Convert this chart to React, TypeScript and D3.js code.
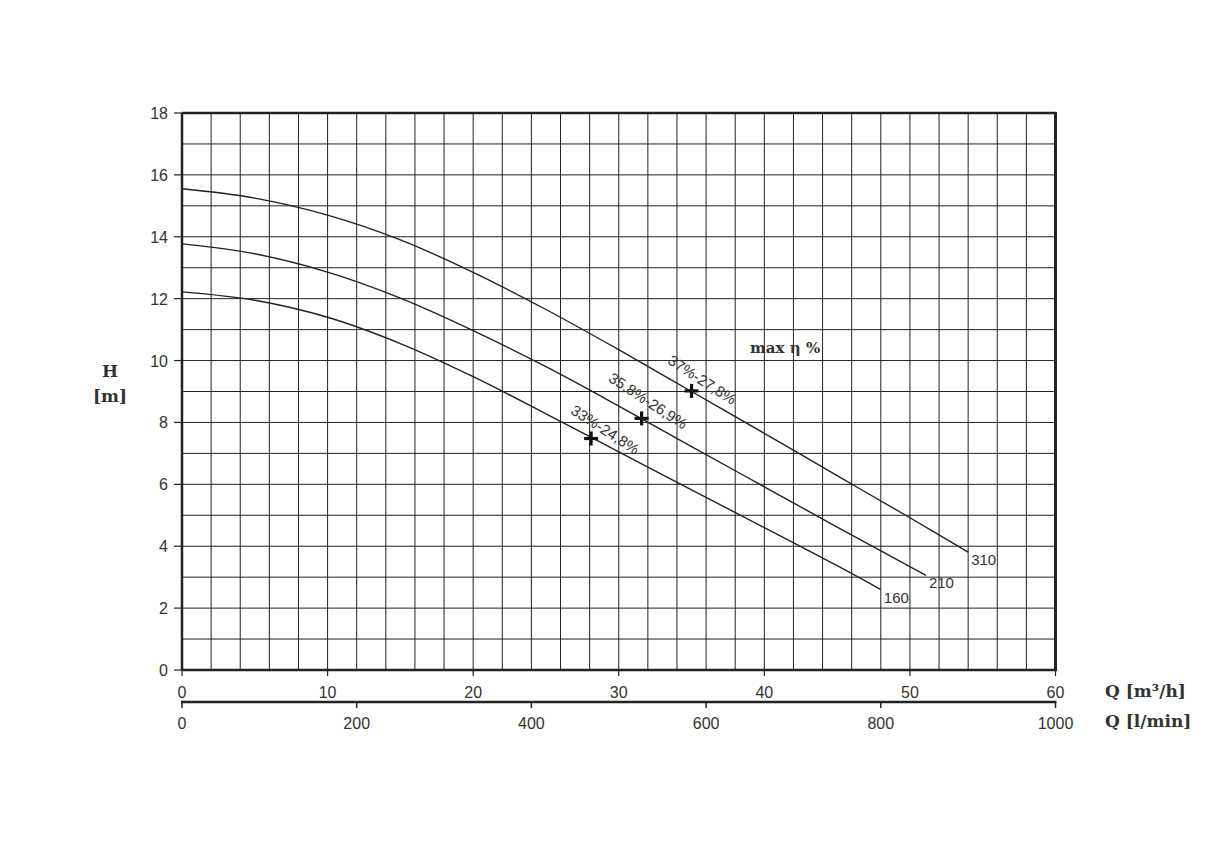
import React from "react";
import * as d3 from "d3";

// ---- data ----
const qTicks = [0, 10, 20, 30, 40, 50, 60];
const lminTicks = [0, 200, 400, 600, 800, 1000];
const hTicks = [0, 2, 4, 6, 8, 10, 12, 14, 16, 18];

const q310 = [0, 5, 10, 15, 20, 25, 30, 35, 40, 45, 50, 54.0];
const h310 = [15.55, 15.25, 14.7, 13.9, 12.85, 11.65, 10.35, 9.0, 7.65, 6.28, 4.92, 3.81];

const q210 = [0, 5, 10, 15, 20, 25, 30, 35, 40, 45, 51.1];
const h210 = [13.77, 13.45, 12.86, 12.02, 10.97, 9.8, 8.53, 7.22, 5.92, 4.62, 3.06];

const q160 = [0, 5, 10, 15, 20, 25, 30, 35, 40, 45, 48.0];
const h160 = [12.22, 11.95, 11.4, 10.55, 9.48, 8.28, 7.05, 5.82, 4.6, 3.37, 2.6];

const seriesNames = ["310", "210", "160"];
const effLabels = ["37%-27,8%", "35,8%-26,9%", "33%-24,8%"];
const markerQ = [35.0, 31.57, 28.1];
const markerH = [9.02, 8.13, 7.48];
const labelQ = [35.72, 32.01, 29.06];
const labelH = [9.37, 8.69, 7.76];

const W = 1222;
const H = 843;
const left = 182, right = 1055.5, top = 113, bottom = 670;

export default function App() {
  const x = d3.scaleLinear().domain([0, 60]).range([left, right]);
  const xl = d3.scaleLinear().domain([0, 1000]).range([left, right]);
  const y = d3.scaleLinear().domain([0, 18]).range([bottom, top]);

  const line = d3
    .line<[number, number]>()
    .x((d) => x(d[0]))
    .y((d) => y(d[1]))
    .curve(d3.curveCatmullRom.alpha(0.5));

  const curves = [
    q310.map((q, i) => [q, h310[i]] as [number, number]),
    q210.map((q, i) => [q, h210[i]] as [number, number]),
    q160.map((q, i) => [q, h160[i]] as [number, number]),
  ];

  const vGrid = d3.range(2, 60, 2);
  const hGrid = d3.range(1, 18, 1);
  const ink = "#222";
  const txt = "#333";
  const sans = "'Liberation Sans', Arial, Helvetica, sans-serif";
  const serif = "'DejaVu Serif', 'Liberation Serif', serif";
  const xAxis2Y = 702;

  return (
    <svg
      width={W}
      height={H}
      style={{ position: "absolute", left: 0, top: 0, background: "#fff" }}
    >
      <rect x={0} y={0} width={W} height={H} fill="#fff" />
      {/* grid */}
      {vGrid.map((v) => (
        <line key={"v" + v} x1={x(v)} x2={x(v)} y1={top} y2={bottom} stroke={ink} strokeWidth={1} />
      ))}
      {hGrid.map((v) => (
        <line key={"h" + v} x1={left} x2={right} y1={y(v)} y2={y(v)} stroke={ink} strokeWidth={1} />
      ))}
      {/* frame */}
      <line x1={left} x2={right} y1={top} y2={top} stroke={ink} strokeWidth={2.5} />
      <line x1={left} x2={left} y1={top} y2={bottom} stroke={ink} strokeWidth={2.5} />
      <line x1={right} x2={right} y1={top - 1} y2={bottom} stroke={ink} strokeWidth={3} />
      <line x1={left - 1} x2={right + 1.5} y1={bottom} y2={bottom} stroke={ink} strokeWidth={2.5} />

      {/* y ticks */}
      {hTicks.map((v) => (
        <g key={"yt" + v}>
          <line x1={left - 8} x2={left} y1={y(v)} y2={y(v)} stroke={ink} strokeWidth={1.2} />
          <text x={left - 14} y={y(v) + 6} textAnchor="end" fontFamily={sans} fontSize={16} fill={txt}>
            {v}
          </text>
        </g>
      ))}
      {/* x ticks m3/h */}
      {qTicks.map((v) => (
        <g key={"xt" + v}>
          <line x1={x(v)} x2={x(v)} y1={bottom} y2={bottom + 6} stroke={ink} strokeWidth={1.2} />
          <text x={x(v)} y={698} textAnchor="middle" fontFamily={sans} fontSize={16} fill={txt}>
            {v}
          </text>
        </g>
      ))}
      {/* second axis l/min */}
      <line x1={left - 1} x2={right + 1} y1={xAxis2Y} y2={xAxis2Y} stroke={ink} strokeWidth={2.5} />
      {lminTicks.map((v) => (
        <g key={"lt" + v}>
          <line x1={xl(v)} x2={xl(v)} y1={xAxis2Y} y2={xAxis2Y + 6} stroke={ink} strokeWidth={1.5} />
          <text x={xl(v)} y={729} textAnchor="middle" fontFamily={sans} fontSize={16} fill={txt}>
            {v}
          </text>
        </g>
      ))}

      {/* curves */}
      {curves.map((c, i) => (
        <path key={"c" + i} d={line(c) || ""} fill="none" stroke={ink} strokeWidth={1.4} />
      ))}
      {/* end labels */}
      {curves.map((c, i) => {
        const last = c[c.length - 1];
        return (
          <text
            key={"n" + i}
            x={x(last[0]) + 3}
            y={y(last[1]) + 13}
            fontFamily={sans}
            fontSize={15}
            fill={txt}
          >
            {seriesNames[i]}
          </text>
        );
      })}
      {/* markers */}
      {markerQ.map((q, i) => (
        <g key={"m" + i} transform={`translate(${x(q)},${y(markerH[i])})`}>
          <line x1={-7} x2={7} y1={0} y2={0} stroke="#111" strokeWidth={3.2} />
          <line x1={0} x2={0} y1={-7} y2={7} stroke="#111" strokeWidth={3.2} />
        </g>
      ))}
      {/* efficiency labels */}
      {labelQ.map((q, i) => (
        <text
          key={"e" + i}
          transform={`translate(${x(q)},${y(labelH[i])}) rotate(33)`}
          textAnchor="middle"
          dy={5}
          fontFamily={sans}
          fontSize={15}
          fill={txt}
        >
          {effLabels[i]}
        </text>
      ))}

      <text x={750} y={353} fontFamily={serif} fontWeight="bold" fontSize={15} fill={txt}>
        max η %
      </text>

      {/* axis titles */}
      <text x={110} y={377} textAnchor="middle" fontFamily={serif} fontWeight="bold" fontSize={17} fill={txt}>
        H
      </text>
      <text x={110} y={402} textAnchor="middle" fontFamily={serif} fontWeight="bold" fontSize={17} fill={txt}>
        [m]
      </text>
      <text x={1105} y={697} fontFamily={serif} fontWeight="bold" fontSize={17} fill={txt}>
        Q [m³/h]
      </text>
      <text x={1105} y={727} fontFamily={serif} fontWeight="bold" fontSize={17} fill={txt}>
        Q [l/min]
      </text>
    </svg>
  );
}
